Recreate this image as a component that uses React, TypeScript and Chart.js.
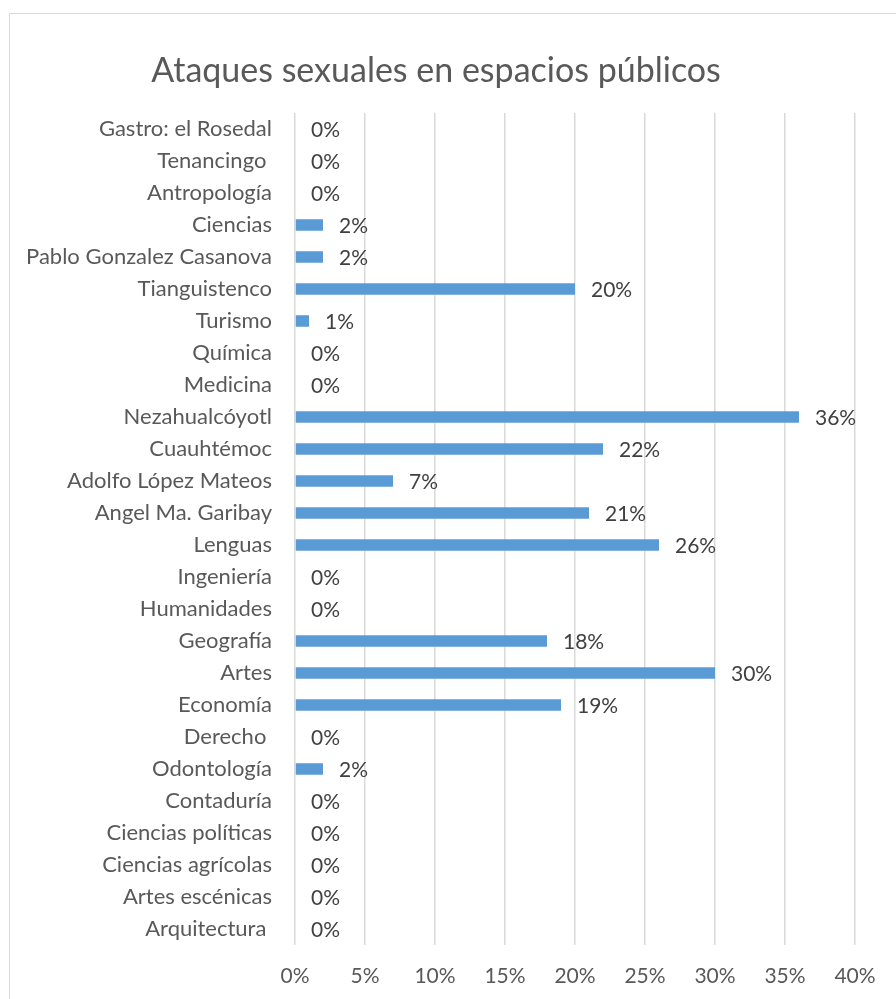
import React, { useEffect, useRef } from "react";
import { Chart, registerables } from "chart.js";

Chart.register(...registerables);

const chartTitle = "Ataques sexuales en espacios públicos";
const categories = [
  "Gastro: el Rosedal",
  "Tenancingo ",
  "Antropología",
  "Ciencias",
  "Pablo Gonzalez Casanova",
  "Tianguistenco",
  "Turismo",
  "Química",
  "Medicina",
  "Nezahualcóyotl",
  "Cuauhtémoc",
  "Adolfo López Mateos",
  "Angel Ma. Garibay",
  "Lenguas",
  "Ingeniería",
  "Humanidades",
  "Geografía",
  "Artes",
  "Economía",
  "Derecho ",
  "Odontología",
  "Contaduría",
  "Ciencias políticas",
  "Ciencias agrícolas",
  "Artes escénicas",
  "Arquitectura ",
];
const values = [0, 0, 0, 2, 2, 20, 1, 0, 0, 36, 22, 7, 21, 26, 0, 0, 18, 30, 19, 0, 2, 0, 0, 0, 0, 0];
const xMin = 0;
const xMax = 40;
const xStep = 5;

const FONT = "Lato";

export default function App() {
  const ref = useRef<HTMLCanvasElement | null>(null);

  useEffect(() => {
    if (!ref.current) return;
    const titlePlugin = {
      id: "customTitle",
      afterDraw(chart: any) {
        const ctx = chart.ctx;
        ctx.save();
        ctx.font = `34px ${FONT}`;
        ctx.fillStyle = "#595959";
        ctx.textAlign = "center";
        ctx.textBaseline = "alphabetic";
        ctx.fillText(chartTitle, 436, 82);
        ctx.restore();
      },
    };
    const labelPlugin = {
      id: "barLabels",
      afterDatasetsDraw(chart: any) {
        const ctx = chart.ctx;
        const meta = chart.getDatasetMeta(0);
        ctx.save();
        ctx.font = `21px ${FONT}`;
        ctx.fillStyle = "#404040";
        ctx.textAlign = "left";
        ctx.textBaseline = "middle";
        meta.data.forEach((bar: any, i: number) => {
          ctx.fillText(values[i] + "%", bar.x + 16, bar.y + 1);
        });
        ctx.restore();
      },
    };
    const chart = new Chart(ref.current, {
      type: "bar",
      data: {
        labels: categories,
        datasets: [
          {
            data: values,
            backgroundColor: "#5B9BD5",
            barPercentage: 0.36,
            categoryPercentage: 1,
          },
        ],
      },
      options: {
        indexAxis: "y",
        responsive: false,
        animation: false,
        devicePixelRatio: 1,
        layout: { padding: { top: 113, left: 17, right: 41, bottom: 0 } },
        plugins: {
          legend: { display: false },
          title: { display: false },
          tooltip: { enabled: false },
        },
        scales: {
          y: {
            type: "category",
            grid: { display: false },
            border: { display: false },
            ticks: {
              font: { family: FONT, size: 22 },
              color: "#595959",
              padding: 15,
              autoSkip: false,
            },
            afterFit: (s: any) => {
              s.width = 278;
            },
          },
          x: {
            type: "linear",
            min: xMin,
            max: xMax,
            grid: { color: "#d9d9d9", lineWidth: 1.5, drawTicks: false },
            border: { display: false },
            ticks: {
              stepSize: xStep,
              font: { family: FONT, size: 21 },
              color: "#595959",
              padding: 19,
              callback: (v: any) => v + "%",
            },
            afterFit: (s: any) => {
              s.height = 54;
            },
          },
        },
      },
      plugins: [titlePlugin, labelPlugin],
    } as any);
    return () => chart.destroy();
  }, []);

  return (
    <div style={{ position: "fixed", left: 0, top: 0, width: 896, height: 999, background: "#fff", overflow: "hidden" }}>
      <div
        style={{
          position: "absolute",
          left: 9,
          top: 13,
          width: 900,
          height: 1000,
          border: "1px solid #d9d9d9",
          boxSizing: "border-box",
        }}
      />
      <canvas ref={ref} width={896} height={999} style={{ position: "absolute", left: 0, top: 0 }} />
    </div>
  );
}
